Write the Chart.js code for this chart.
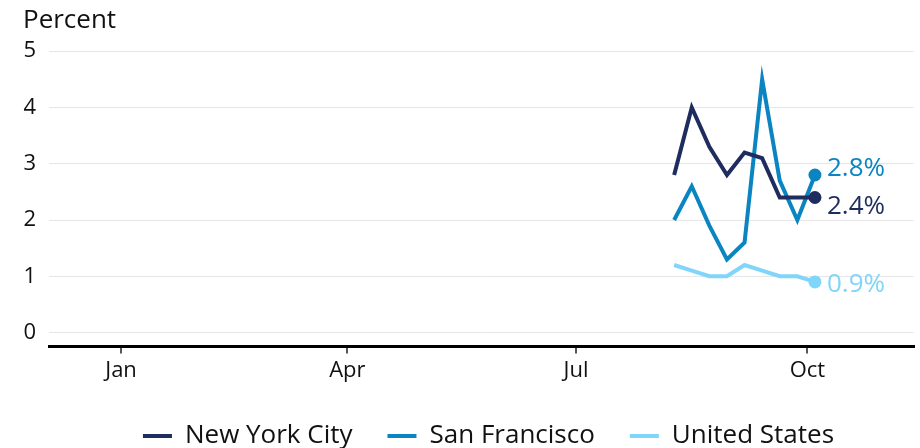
<!DOCTYPE html>
<html>
<head>
<meta charset="utf-8">
<script src="https://cdn.jsdelivr.net/npm/chart.js@4.4.0/dist/chart.umd.min.js"></script>
<style>
  html, body { margin: 0; padding: 0; background: #fff; overflow: hidden; }
  #wrap { width: 920px; height: 448px; position: relative; overflow: hidden; }
</style>
</head>
<body>
<div id="wrap"><canvas id="c" width="920" height="459"></canvas></div>
<script>
// Day of year (Jan 1 = 0) for each weekly observation
const days = [220, 227, 234, 241, 248, 255, 262, 269, 276];
const nyc = [2.8, 4.0, 3.3, 2.8, 3.2, 3.1, 2.4, 2.4, 2.4];
const sf  = [2.0, 2.6, 1.9, 1.3, 1.6, 4.5, 2.7, 2.0, 2.8];
const us  = [1.2, 1.1, 1.0, 1.0, 1.2, 1.1, 1.0, 1.0, 0.9];
const seriesNames = ['New York City', 'San Francisco', 'United States'];
const xTickDays = [0, 90, 181, 273];
const xTickLabels = ['Jan', 'Apr', 'Jul', 'Oct'];
const yTicks = [0, 1, 2, 3, 4, 5];

const colors = ['#1f2c5e', '#0a85c2', '#80d5fb'];
const labelOffsets = [9, -6, 3];
const FONT = '"Open Sans", sans-serif';

function pts(vals) { return vals.map((v, i) => ({ x: days[i], y: v })); }
const lastIdx = days.length - 1;

const endLabels = {
  id: 'endLabels',
  afterDatasetsDraw(chart) {
    const ctx = chart.ctx;
    ctx.save();
    ctx.font = '26px ' + FONT;
    ctx.textBaseline = 'middle';
    ctx.textAlign = 'left';
    chart.data.datasets.forEach((ds, i) => {
      const meta = chart.getDatasetMeta(i);
      const p = meta.data[meta.data.length - 1];
      const v = ds.data[ds.data.length - 1].y;
      ctx.fillStyle = ds.borderColor;
      ctx.fillText(v.toFixed(1) + '%', p.x + 12, p.y + labelOffsets[i]);
    });
    ctx.restore();
  }
};

const shiftLegend = {
  id: 'shiftLegend',
  afterUpdate(chart) {
    if (chart.legend) { chart.legend.left += 17; chart.legend.right += 17; }
  }
};

new Chart(document.getElementById('c'), {
  type: 'line',
  data: {
    datasets: [nyc, sf, us].map((vals, i) => ({
      label: seriesNames[i],
      data: pts(vals),
      borderColor: colors[i],
      backgroundColor: colors[i],
      borderWidth: 4,
      tension: 0,
      pointRadius: ctx => ctx.dataIndex === lastIdx ? 6.5 : 0,
      pointHoverRadius: 0,
      pointBorderWidth: 0,
      clip: false
    }))
  },
  options: {
    responsive: false,
    animation: false,
    events: [],
    layout: { padding: { left: 23, right: 0, top: 5, bottom: 0 } },
    plugins: {
      tooltip: { enabled: false },
      title: {
        display: true,
        text: 'Percent',
        align: 'start',
        color: '#111',
        font: { family: FONT, size: 26, weight: 'normal' },
        padding: { top: 0, bottom: 15 }
      },
      legend: {
        position: 'bottom',
        labels: {
          color: '#111',
          font: { family: FONT, size: 26 },
          boxWidth: 29,
          boxHeight: 4,
          padding: 35,
          generateLabels(chart) {
            return chart.data.datasets.map((ds, i) => ({
              text: ds.label,
              fillStyle: ds.borderColor,
              strokeStyle: ds.borderColor,
              lineWidth: 0,
              datasetIndex: i,
              fontColor: '#111'
            }));
          }
        }
      }
    },
    scales: {
      x: {
        type: 'linear',
        min: -28.65,
        max: 315.2,
        afterBuildTicks(axis) { axis.ticks = xTickDays.map(v => ({ value: v })); },
        afterFit(scale) { scale.paddingRight = 0; scale.paddingLeft = 0; },
        ticks: {
          color: '#111',
          font: { family: FONT, size: 22 },
          padding: 4,
          maxRotation: 0,
          autoSkip: false,
          callback: (v) => xTickLabels[xTickDays.indexOf(v)]
        },
        grid: { drawOnChartArea: false, drawTicks: true, tickLength: 7, color: '#555', lineWidth: 2 },
        border: { display: true, color: '#000', width: 3 }
      },
      y: {
        min: -0.25,
        max: 5,
        afterBuildTicks(axis) { axis.ticks = yTicks.map(v => ({ value: v })); },
        afterFit(scale) { scale.width = 26; },
        ticks: {
          color: '#111',
          font: { family: FONT, size: 22 },
          padding: 13
        },
        grid: { color: '#e6e6e6', lineWidth: 1, drawTicks: false },
        border: { display: false }
      }
    }
  },
  plugins: [endLabels, shiftLegend]
});
</script>
</body>
</html>
